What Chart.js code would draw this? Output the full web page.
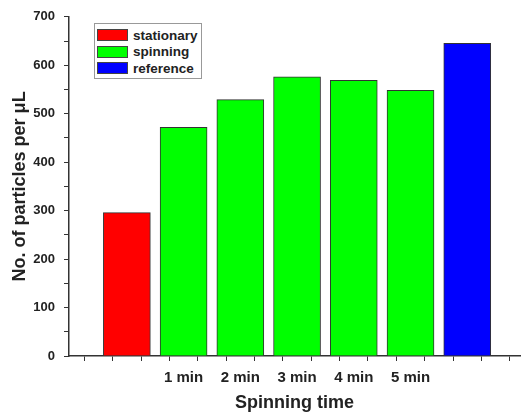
<!DOCTYPE html>
<html>
<head>
<meta charset="utf-8">
<script src="https://cdn.jsdelivr.net/npm/chart.js@4"></script>
<style>
  body { margin: 0; background: #fff; }
  #wrap { position: relative; width: 532px; height: 414px; }
  #legend {
    position: absolute; left: 94px; top: 23px; width: 106px;
    border: 1px solid #999; background: #fff; padding: 3px 0 1px 0;
    font: bold 13.5px Arial, "Liberation Sans", sans-serif; color: #222;
  }
  #legend div { display: flex; align-items: center; height: 16.5px; }
  #legend span.sw { display: inline-block; width: 31px; height: 12px; margin: 0 5px 0 2px; border: 1px solid #444; box-sizing: border-box; }
</style>
</head>
<body>
<div id="wrap">
  <canvas id="bars" width="532" height="414"></canvas>
  <div id="legend"></div>
</div>
<script>
// spinning time labels (x ticks)
const timeLabels = ['1 min', '2 min', '3 min', '4 min', '5 min'];

// particle counts per µL
const stationaryValues = [296];
const spinningValues = [472, 529, 576, 569, 548];
const referenceValues = [645];

// bar slots on the x axis: stationary, 1..5 min, reference
const stationarySlots = [0];
const spinningSlots = [1, 2, 3, 4, 5];
const referenceSlots = [6];

const seriesNames = ['stationary', 'spinning', 'reference'];
const seriesColors = ['#ff0000', '#00ff00', '#0000ff'];

function pts(slots, vals) {
    return slots.map((s, i) => ({ x: s, y: vals[i] }));
}

const font = 'Arial, "Liberation Sans", sans-serif';
const ink = '#222';

function barSet(i, data) {
    return {
        label: seriesNames[i],
        data: data,
        backgroundColor: seriesColors[i],
        borderColor: '#333',
        borderWidth: 1,
        barThickness: 47,
        grouped: false
    };
}

new Chart(document.getElementById('bars'), {
    type: 'bar',
    data: {
        datasets: [
            barSet(0, pts(stationarySlots, stationaryValues)),
            barSet(1, pts(spinningSlots, spinningValues)),
            barSet(2, pts(referenceSlots, referenceValues))
        ]
    },
    options: {
        responsive: false,
        animation: false,
        layout: { padding: { top: 16, right: 12, left: 0, bottom: 0 } },
        plugins: {
            legend: { display: false },
            tooltip: { enabled: false }
        },
        scales: {
            x: {
                type: 'linear',
                offset: false,
                min: -1.02,
                max: 6.93,
                afterFit: s => { s.height = 58; },
                ticks: {
                    stepSize: 0.5,
                    includeBounds: false,
                    autoSkip: false,
                    maxRotation: 0,
                    padding: 8,
                    color: ink,
                    font: { family: font, size: 15, weight: 'bold' },
                    callback: v => (Number.isInteger(v) && v >= 1 && v <= 5) ? timeLabels[v - 1] : ''
                },
                grid: { drawOnChartArea: false, drawTicks: true, tickLength: 5, color: '#333', lineWidth: 1 },
                border: { display: true, color: '#333', width: 1.5 },
                title: {
                    display: true,
                    text: 'Spinning time',
                    color: ink,
                    padding: { top: 0, bottom: 0 },
                    font: { family: font, size: 18, weight: 'bold' }
                }
            },
            y: {
                min: 0,
                max: 700,
                afterFit: s => { s.width = 69; },
                ticks: {
                    stepSize: 50,
                    padding: 9,
                    color: ink,
                    font: { family: font, size: 13, weight: 'bold' },
                    callback: v => v % 100 === 0 ? v : ''
                },
                grid: { drawOnChartArea: false, drawTicks: true, tickLength: 5, color: '#333', lineWidth: 1 },
                border: { display: true, color: '#333', width: 1.5 },
                title: {
                    display: true,
                    text: 'No. of particles per μL',
                    color: ink,
                    padding: { top: 9, bottom: 0 },
                    font: { family: font, size: 18, weight: 'bold' }
                }
            }
        }
    }
});

// legend box inside the plot
const legend = document.getElementById('legend');
seriesNames.forEach((name, i) => {
    const row = document.createElement('div');
    const sw = document.createElement('span');
    sw.className = 'sw';
    sw.style.background = seriesColors[i];
    row.appendChild(sw);
    row.appendChild(document.createTextNode(name));
    legend.appendChild(row);
});
</script>
</body>
</html>
